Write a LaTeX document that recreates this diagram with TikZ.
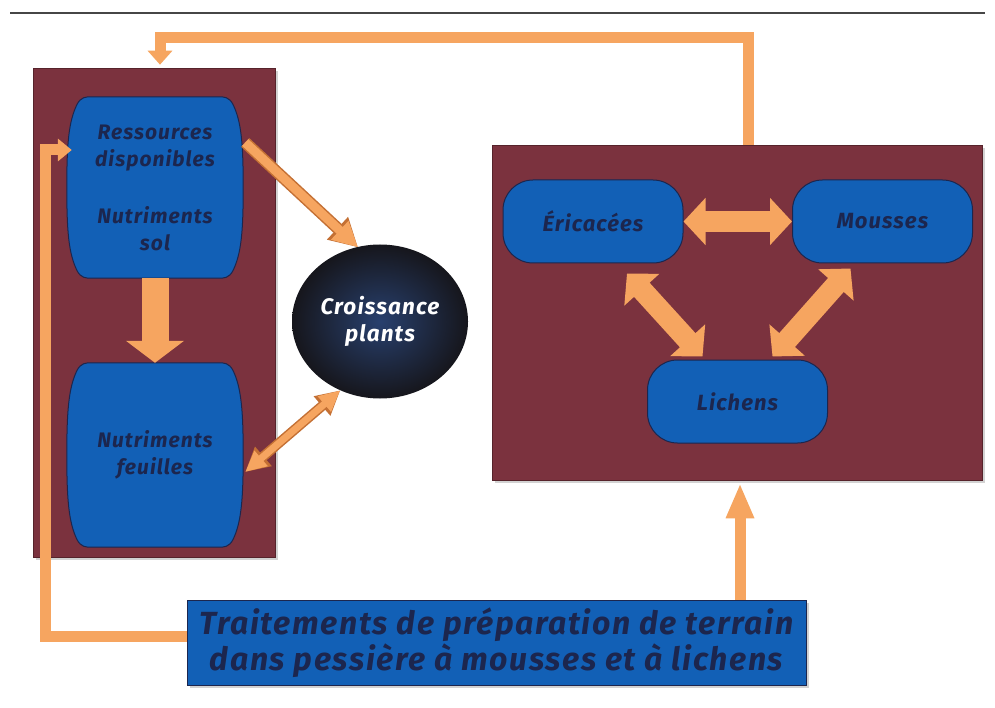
\documentclass[tikz,border=0pt]{standalone}
\usepackage{fontspec}
\setmainfont{Fira Sans}[LetterSpace=5]
\usetikzlibrary{arrows.meta,calc,shapes.geometric,shadows}
\definecolor{maroon}{RGB}{123,50,62}
\definecolor{boxblue}{RGB}{18,96,182}
\definecolor{navy}{RGB}{28,38,78}
\definecolor{orng}{RGB}{246,165,96}
\definecolor{orngdk}{RGB}{196,112,52}
\definecolor{rule}{RGB}{70,70,70}
\pgfdeclarelayer{bgA}
\pgfdeclarelayer{bgB}
\pgfsetlayers{bgA,bgB,main}
\newcommand\mybarrel[1]{%
  \draw[barrelst] ($(#1.north west)+(25,0)$) -- ($(#1.north east)+(-25,0)$)
    .. controls ($(#1.north east)+(-19,0)$) and ($(#1.north east)+(-14,0)$) .. ($(#1.north east)+(-10,8)$)
    .. controls ($(#1.north east)+(-2,25)$) and ($(#1.east)+(0,-45)$) .. (#1.east)
    .. controls ($(#1.east)+(0,45)$) and ($(#1.south east)+(-2,-25)$) .. ($(#1.south east)+(-10,-8)$)
    .. controls ($(#1.south east)+(-14,0)$) and ($(#1.south east)+(-19,0)$) .. ($(#1.south east)+(-25,0)$)
    -- ($(#1.south west)+(25,0)$)
    .. controls ($(#1.south west)+(19,0)$) and ($(#1.south west)+(14,0)$) .. ($(#1.south west)+(10,-8)$)
    .. controls ($(#1.south west)+(2,-25)$) and ($(#1.west)+(0,45)$) .. (#1.west)
    .. controls ($(#1.west)+(0,-45)$) and ($(#1.north west)+(2,25)$) .. ($(#1.north west)+(10,8)$)
    .. controls ($(#1.north west)+(14,0)$) and ($(#1.north west)+(19,0)$) .. cycle;}
\tikzset{
  mbox/.style={rectangle, fill=maroon, draw=maroon!70!black, line width=0.6pt, inner sep=0pt,
    drop shadow={opacity=0.35, shadow xshift=3pt, shadow yshift=-3pt}},
  barrelst/.style={fill=boxblue, draw=navy, line width=1pt},
  bnode/.style={rectangle, inner sep=0pt, align=center, text=navy, font=\fontsize{21}{27}\selectfont\bfseries\itshape},
  rnode/.style={rectangle, rounded corners=30pt, fill=boxblue, draw=navy, line width=1pt, inner sep=0pt,
    minimum width=180pt, minimum height=83pt, text=navy, font=\fontsize{22}{25}\selectfont\bfseries\itshape},
  fatd/.style={draw=orng, line width=21pt, {Triangle[width=46pt,length=22pt]}-{Triangle[width=46pt,length=22pt]}},
  fats/.style={draw=orng, line width=27pt, -{Triangle[width=57pt,length=22pt]}},
  thinsO/.style={draw=orngdk, line width=12pt, -{Triangle[width=29pt,length=28pt]}},
  thins/.style={draw=orng, line width=9pt, -{Triangle[width=24pt,length=25pt]}},
  thindO/.style={draw=orngdk, line width=10pt, {Triangle[width=24pt,length=24pt]}-{Triangle[width=24pt,length=24pt]}},
  thind/.style={draw=orng, line width=7pt, {Triangle[width=19pt,length=21pt]}-{Triangle[width=19pt,length=21pt]}},
  loopst/.style={draw=orng, line width=11pt},
}
\begin{document}
\begin{tikzpicture}[x=1pt,y=-1pt]
\useasboundingbox (0,0) rectangle (995,708);
\begin{pgfonlayer}{bgA}
  \fill[white] (0,0) rectangle (995,708);
  \draw[rule, line width=2pt] (10,13) -- (985,13);
  \node[mbox, minimum width=242pt, minimum height=489pt] (lbox) at (154,312.5) {};
  \node[mbox, minimum width=490pt, minimum height=335pt] (rbox) at (737,312.5) {};
\end{pgfonlayer}
% left barrels
\node[bnode, minimum width=176pt, minimum height=181pt] (res) at (155,187.5)
  {Ressources\\disponibles\\[30pt]Nutriments\\sol};
\node[bnode, minimum width=176pt, minimum height=184pt] (feu) at (155,455)
  {Nutriments\\feuilles};
\begin{pgfonlayer}{bgB}
  \mybarrel{res}
  \mybarrel{feu}
\end{pgfonlayer}
% circle
\node[ellipse, minimum width=176pt, minimum height=154pt, inner sep=0pt,
  inner color={rgb,255:red,40;green,64;blue,110}, outer color={rgb,255:red,22;green,22;blue,28},
  text=white, align=center, font=\fontsize{22.5}{27}\selectfont\bfseries\itshape] (cro) at (380,321.5)
  {Croissance\\plants};
% right box nodes
\node[rnode] (eri) at (593,221.5) {Éricacées};
\node[rnode] (mou) at (882.5,221.5) {Mousses};
\node[rnode] (lic) at (737.5,401.5) {Lichens};
% bottom box
\node[rectangle, fill=boxblue, draw=navy, line width=0.8pt, inner sep=0pt,
  minimum width=619pt, minimum height=85pt, align=center, text=navy,
  font=\fontsize{32}{36}\selectfont\bfseries\itshape,
  drop shadow={opacity=0.35, shadow xshift=3pt, shadow yshift=-3pt}] (tra) at (496.5,642.5)
  {Traitements de préparation de terrain\\dans pessière à mousses et à lichens};
% arrows
\draw[fats] (res.south) -- (feu.north);
\draw[thinsO] ([shift={(2,-45)}]res.east) -- ([shift={(-22,3)}]cro.north);
\draw[thins] ([shift={(2,-45)}]res.east) -- ([shift={(-22,3)}]cro.north);
\draw[thindO] ([shift={(2,17)}]feu.east) -- (cro.240);
\draw[thind] ([shift={(2,17)}]feu.east) -- (cro.240);
\draw[fatd] (eri.east) -- (mou.west);
\draw[fatd] ([shift={(34,10)}]eri.south) -- ([shift={(-35,-3)}]lic.north);
\draw[fatd] ([shift={(-32,5)}]mou.south) -- ([shift={(35,-3)}]lic.north);
% loops
\draw[loopst, -{Triangle[width=22pt,length=14pt]}] ([shift={(0,-6)}]tra.west) -- ++(-141,0) |- ([shift={(5,-37.5)}]res.west);
\draw[loopst, -{Triangle[width=24pt,length=14pt]}] ([shift={(11,0)}]rbox.north) -- ++(0,-107) -| ([shift={(6,-3)}]lbox.north);
\draw[loopst, -{Triangle[width=26pt,length=35pt]}] ([shift={(243.5,0)}]tra.north) -- ([shift={(3,3)}]rbox.south);
\end{tikzpicture}
\end{document}
